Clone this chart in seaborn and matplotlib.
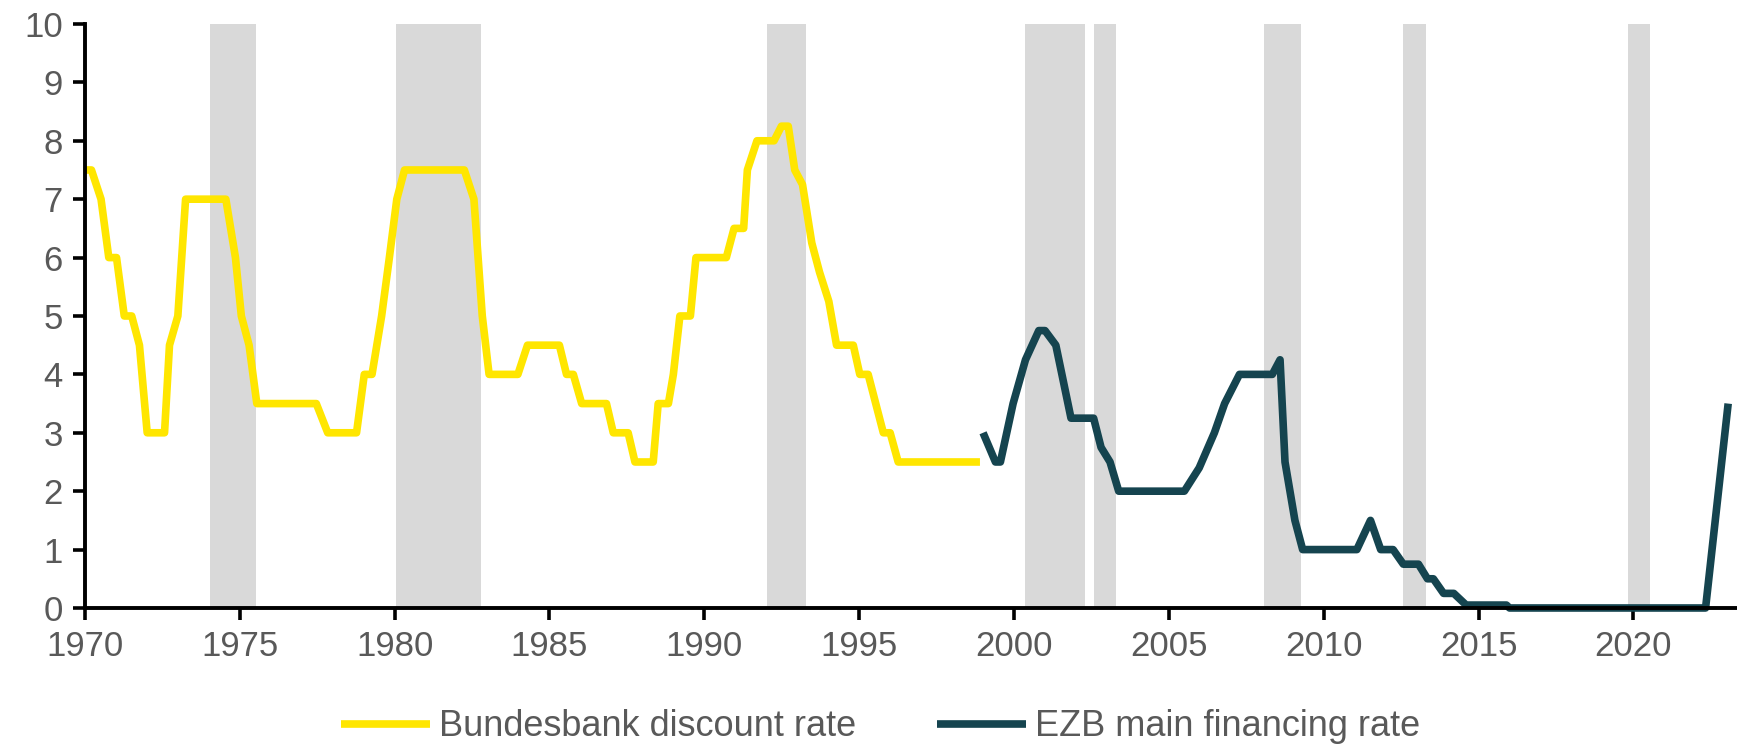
import matplotlib
matplotlib.use("Agg")
import matplotlib.pyplot as plt
import pandas as pd
import seaborn as sns

sns.set_theme(style="white")
plt.rcParams["font.family"] = ["Liberation Sans", "DejaVu Sans"]

# Bundesbank discount rate (year, %)
bub_years = [
    1970.0, 1970.21, 1970.52, 1970.77, 1971.02, 1971.27, 1971.51, 1971.76, 1972.01, 1972.57,
    1972.73, 1973.0, 1973.25, 1974.55, 1974.86, 1975.05, 1975.3, 1975.55, 1977.47, 1977.84,
    1978.77, 1979.02, 1979.27, 1979.58, 1979.83, 1980.07, 1980.32, 1982.25, 1982.56, 1982.83,
    1983.05, 1983.98, 1984.29, 1985.32, 1985.55, 1985.77, 1986.04, 1986.84, 1987.06, 1987.54,
    1987.76, 1988.35, 1988.51, 1988.84, 1989.0, 1989.21, 1989.55, 1989.73, 1990.71, 1990.96,
    1991.27, 1991.39, 1991.7, 1992.25, 1992.49, 1992.71, 1992.92, 1993.17, 1993.47, 1993.72,
    1994.02, 1994.27, 1994.81, 1995.02, 1995.29, 1995.78, 1996.0, 1996.26, 1998.9,
]
bub_rate = [
    7.5, 7.5, 7.0, 6.0, 6.0, 5.0, 5.0, 4.5, 3.0, 3.0,
    4.5, 5.0, 7.0, 7.0, 6.0, 5.0, 4.5, 3.5, 3.5, 3.0,
    3.0, 4.0, 4.0, 5.0, 6.0, 7.0, 7.5, 7.5, 7.0, 5.0,
    4.0, 4.0, 4.5, 4.5, 4.0, 4.0, 3.5, 3.5, 3.0, 3.0,
    2.5, 2.5, 3.5, 3.5, 4.0, 5.0, 5.0, 6.0, 6.0, 6.5,
    6.5, 7.5, 8.0, 8.0, 8.25, 8.25, 7.5, 7.25, 6.25, 5.75,
    5.25, 4.5, 4.5, 4.0, 4.0, 3.0, 3.0, 2.5, 2.5,
]

# EZB main refinancing rate (year, %)
ezb_years = [
    1999.0, 1999.4, 1999.56, 1999.97, 2000.37, 2000.8, 2001.0, 2001.35, 2001.84, 2002.57,
    2002.81, 2003.1, 2003.38, 2005.5, 2005.98, 2006.47, 2006.8, 2007.28, 2008.34, 2008.59,
    2008.75, 2009.07, 2009.32, 2011.07, 2011.51, 2011.84, 2012.24, 2012.57, 2013.06, 2013.35,
    2013.54, 2013.87, 2014.2, 2014.6, 2015.9, 2016.0, 2022.33, 2023.06,
]
ezb_rate = [
    3.0, 2.5, 2.5, 3.5, 4.25, 4.75, 4.75, 4.5, 3.25, 3.25,
    2.75, 2.5, 2.0, 2.0, 2.4, 3.0, 3.5, 4.0, 4.0, 4.25,
    2.5, 1.5, 1.0, 1.0, 1.5, 1.0, 1.0, 0.75, 0.75, 0.5,
    0.5, 0.25, 0.25, 0.05, 0.05, 0.0, 0.0, 3.5,
]

# shaded periods (start, end)
band_start = [1974.05, 1980.05, 1992.02, 2000.36, 2002.57, 2008.07, 2012.55, 2019.82]
band_end = [1975.53, 1982.78, 1993.27, 2002.29, 2003.29, 2009.28, 2013.3, 2020.55]

x_ticks = [1970, 1975, 1980, 1985, 1990, 1995, 2000, 2005, 2010, 2015, 2020]
y_ticks = list(range(0, 11))

YELLOW = "#FFE600"
TEAL = "#15444F"
GREY_TXT = "#595959"

fig = plt.figure(figsize=(17.37, 7.47), dpi=100)
ax = fig.add_axes([0.0489, 0.1861, 0.9503, 0.7818])

for s, e in zip(band_start, band_end):
    ax.axvspan(s, e, color="#D9D9D9", lw=0, zorder=0)

bub = pd.DataFrame({"year": bub_years, "rate": bub_rate})
ezb = pd.DataFrame({"year": ezb_years, "rate": ezb_rate})

sns.lineplot(data=bub, x="year", y="rate", ax=ax, color=YELLOW, lw=5.5,
             sort=False, estimator=None, label="Bundesbank discount rate")
sns.lineplot(data=ezb, x="year", y="rate", ax=ax, color=TEAL, lw=5.5,
             sort=False, estimator=None, label="EZB main financing rate")
for line in ax.get_lines():
    line.set_clip_on(False)
    line.set_solid_joinstyle("round")
    line.set_solid_capstyle("butt")

ax.set_xlim(1970, 2023.3)
ax.set_ylim(0, 10)
ax.set_xticks(x_ticks)
ax.set_yticks(y_ticks)
ax.set_xlabel("")
ax.set_ylabel("")

for side in ["top", "right"]:
    ax.spines[side].set_visible(False)
for side in ["left", "bottom"]:
    ax.spines[side].set_color("black")
    ax.spines[side].set_linewidth(2.8)
    ax.spines[side].set_zorder(3)

ax.tick_params(axis="both", direction="out", length=8.5, width=2.6, color="black",
               labelsize=25, labelcolor=GREY_TXT, bottom=True, left=True)
ax.tick_params(axis="x", pad=7)
ax.tick_params(axis="y", pad=7.5)
ax.grid(False)

leg = ax.legend(loc="center", bbox_to_anchor=(0.507, 0.027), bbox_transform=fig.transFigure,
                ncol=2, frameon=False, fontsize=26, labelcolor=GREY_TXT,
                handlelength=2.45, handletextpad=0.25, columnspacing=2.25)
for h in leg.get_lines():
    h.set_linewidth(5.5)

fig.savefig("out.png", dpi=100)
